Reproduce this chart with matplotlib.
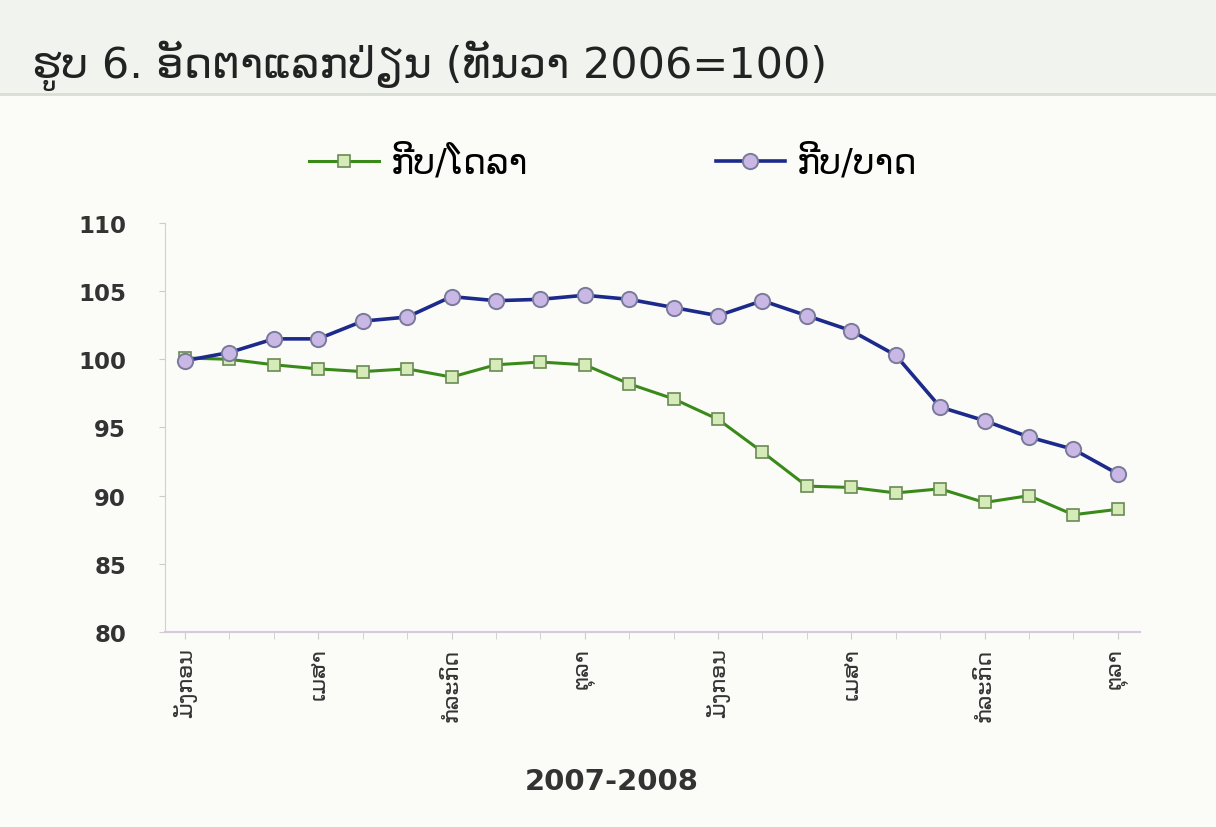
import matplotlib
matplotlib.use("Agg")
import matplotlib.pyplot as plt
from matplotlib.lines import Line2D

plt.rcParams['font.family'] = ['DejaVu Sans']

title = "ຮູບ 6. ອັດຕາແລກປ່ຽນ (ທັນວາ 2006=100)"
series_names = ["ກີບ/ໂດລາ", "ກີບ/ບາດ"]
month_labels = ["ມັງກອນ", "ເມສາ", "ກໍລະກົດ", "ຕຸລາ", "ມັງກອນ", "ເມສາ", "ກໍລະກົດ", "ຕຸລາ"]
xlabel = "2007-2008"

kip_usd = [100.1, 100.0, 99.6, 99.3, 99.1, 99.3, 98.7, 99.6, 99.8, 99.6, 98.2,
           97.1, 95.6, 93.2, 90.7, 90.6, 90.2, 90.5, 89.5, 90.0, 88.6, 89.0]
kip_thb = [99.9, 100.5, 101.5, 101.5, 102.8, 103.1, 104.6, 104.3, 104.4, 104.7, 104.4,
           103.8, 103.2, 104.3, 103.2, 102.1, 100.3, 96.5, 95.5, 94.3, 93.4, 91.6]
yticks = [80, 85, 90, 95, 100, 105, 110]

x = list(range(len(kip_usd)))

fig = plt.figure(figsize=(12.16, 8.28), dpi=100)
fig.patch.set_facecolor("#fbfbf8")

# title band
fig.patches.append(plt.Rectangle((0, 0.885), 1, 0.115, transform=fig.transFigure,
                                 facecolor="#f1f3ee", edgecolor="none", zorder=0))
fig.add_artist(Line2D([0, 1], [0.885, 0.885], transform=fig.transFigure,
                      color="#d8ded4", lw=2))
fig.text(0.026, 0.921, title, fontsize=31, color="#222222", va="center", ha="left")

ax = fig.add_axes([0.1357, 0.2355, 0.8018, 0.494])
ax.set_facecolor("none")

ax.plot(x, kip_usd, color="#3a8a1a", lw=2.2, marker="s", markersize=8,
        markerfacecolor="#d6ecb8", markeredgecolor="#6a8a55", markeredgewidth=1.2,
        label=series_names[0], zorder=3)
ax.plot(x, kip_thb, color="#1c2a8c", lw=2.6, marker="o", markersize=11,
        markerfacecolor="#c9b8e6", markeredgecolor="#7a7a9a", markeredgewidth=1.4,
        label=series_names[1], zorder=4)

ax.set_ylim(80, 110)
ax.set_xlim(-0.45, 21.5)
ax.set_yticks(yticks)
ax.set_yticklabels([str(v) for v in yticks], fontsize=16.5, fontweight="bold", color="#333333")
ax.set_xticks(x, minor=True)
ax.set_xticks(x[::3])
ax.set_xticklabels(month_labels, rotation=90, fontsize=16, color="#333333", va="top")
ax.tick_params(axis="x", which="both", length=5, color="#cccccc", pad=6)
ax.tick_params(axis="y", length=4, color="#cccccc", pad=24)
for s in ["top", "right"]:
    ax.spines[s].set_visible(False)
ax.spines["left"].set_color("#d0d0d0")
ax.spines["bottom"].set_color("#d8c8dc")
ax.spines["bottom"].set_linewidth(1.5)

ax.set_xlabel(xlabel, fontsize=21, fontweight="bold", color="#333333")
ax.xaxis.set_label_coords(0.458, -0.33)

ax.legend(loc="center", bbox_to_anchor=(0.46, 1.15), ncol=2, frameon=False,
          fontsize=25, columnspacing=5.4, handlelength=2.0, handletextpad=0.35)

fig.savefig("out.png", dpi=100, facecolor=fig.get_facecolor())
